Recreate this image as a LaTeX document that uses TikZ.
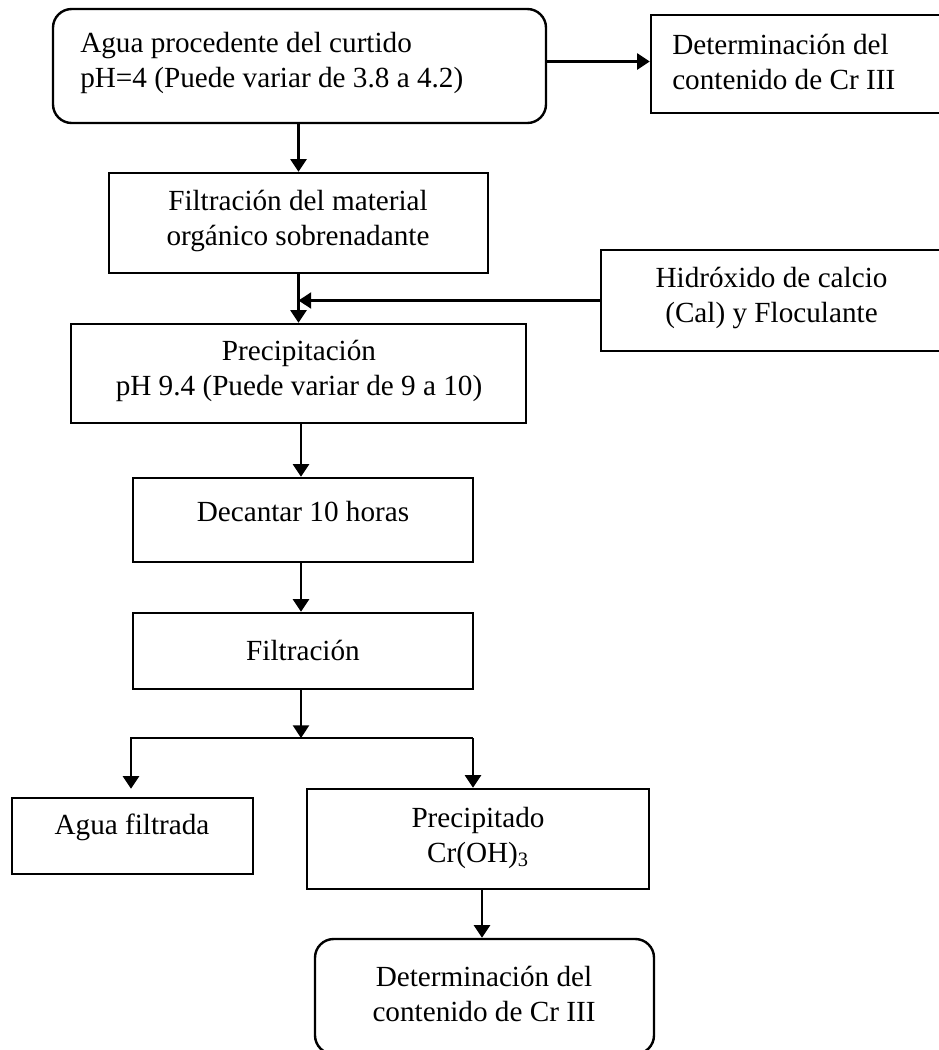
\documentclass[tikz,border=0pt]{standalone}
\usepackage{fontspec}
\setmainfont{Liberation Serif}
\usetikzlibrary{arrows.meta}
\tikzset{
  boxst/.style={draw,line width=1.8pt,inner sep=0pt},
  txt/.style={font=\fontsize{21.9}{26.25}\selectfont,inner sep=0pt},
  arr/.style={line width=1.8pt,-{Triangle[length=9.5pt,width=12pt]}},
}
\newcommand\mkbox[6][]{\node[boxst,#1,minimum width={(#5-#3)*0.75pt},minimum height={(#6-#4)*0.75pt}] (#2) at ({(#3+#5)/2},{(#4+#6)/2}) {};}
\begin{document}
\begin{tikzpicture}[x=0.75pt,y=-0.75pt]
\useasboundingbox (0,0) rectangle (939,1050);
\clip (0,0) rectangle (939,1050);
% boxes
\mkbox[rounded corners=14pt]{b1}{53}{9}{546}{123}
\mkbox{b2}{651}{15}{944}{113}
\mkbox{b3}{109}{173}{488}{273}
\mkbox{b4}{601}{250}{944}{351}
\mkbox{b5}{71}{324}{526}{423}
\mkbox{b6}{133}{478}{473}{562}
\mkbox{b7}{133}{613}{473}{689}
\mkbox{b8}{12}{798}{253}{874}
\mkbox{b9}{307}{789}{649}{889}
\mkbox[rounded corners=14pt]{b10}{315}{939}{654}{1054}
% texts
\node[txt,align=left,anchor=west] (t1) at (80,62.5) {Agua procedente del curtido\\pH=4 (Puede variar de 3.8 a 4.2)};
\node[txt,align=left,anchor=west] (t2) at (672,61.5) {Determinación del\\contenido de Cr III};
\node[txt,align=center] (t3) at (298,220.5) {Filtración del material\\orgánico sobrenadante};
\node[txt,align=center] (t4) at (771.5,297.5) {Hidróxido de calcio\\(Cal) y Floculante};
\node[txt,align=center] (t5) at (299,371) {Precipitación\\pH 9.4 (Puede variar de 9 a 10)};
\node[txt] (t6) at (303,512) {Decantar 10 horas};
\node[txt] (t7) at (303,650) {Filtración};
\node[txt] (t8) at (132,827) {Agua filtrada};
\node[txt,align=center] (t9) at (478,837.5) {Precipitado\\Cr(OH)\textsubscript{3}};
\node[txt,align=center] (t10) at (484,994) {Determinación del\\contenido de Cr III};
% helper coordinates
\coordinate (c1) at (301,0);
\coordinate (c2) at (482,0);
\coordinate (spl) at (131,738);
\coordinate (spr) at (473,738);
% connectors
\draw[arr] (b3.north |- b1.south) -- (b3.north);
\draw[arr] (b1.east |- t2.west) -- (b2.west |- t2.west);
\draw[arr] (b3.south) -- (b3.south |- b5.north);
\draw[arr] (b4.west) -- (b4.west -| b3.south);
\draw[arr] (c1 |- b5.south) -- (c1 |- b6.north);
\draw[arr] (c1 |- b6.south) -- (c1 |- b7.north);
\draw[arr] (c1 |- b7.south) -- (c1 |- spl);
\draw[arr,shorten >=6pt] (spr) -- (spl) -- (spl |- b8.north);
\draw[arr] (spr) -- (spr |- b9.north);
\draw[arr] (c2 |- b9.south) -- (c2 |- b10.north);
\end{tikzpicture}
\end{document}
